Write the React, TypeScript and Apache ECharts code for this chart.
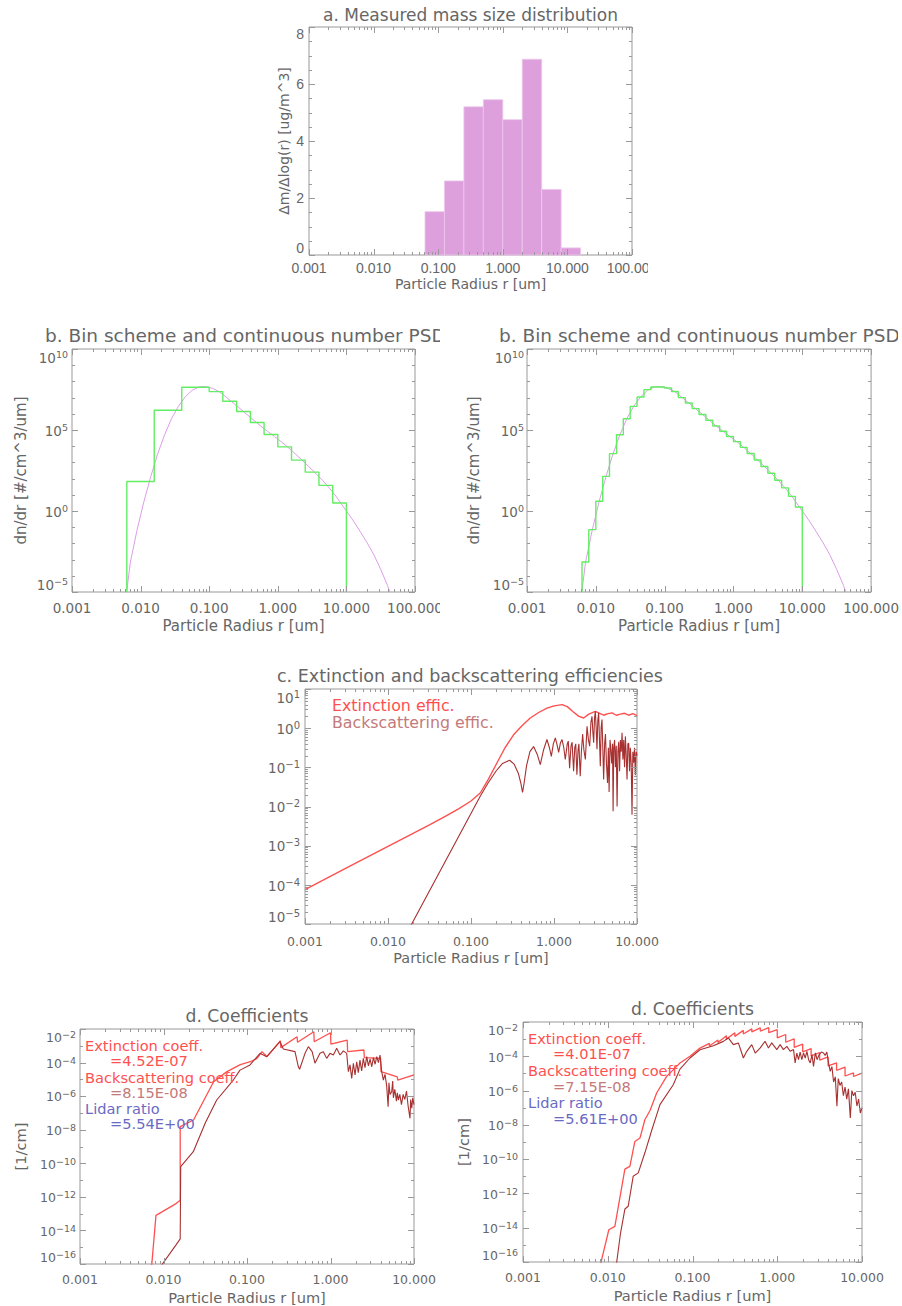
import React, { useEffect, useRef } from "react";
import * as echarts from "echarts";

// ---------------- data ----------------
// a. measured mass size distribution (bin edges in um, dm/dlog(r) in ug/m^3)
const massBinEdges = [0.0625, 0.125, 0.25, 0.5, 1, 2, 4, 8, 16];
const massValues = [1.52, 2.6, 5.2, 5.45, 4.75, 6.87, 2.3, 0.25];

// b. coarse bin scheme (left) : edges [um] and dn/dr levels
const coarseEdges = [0.0063, 0.0158, 0.0398, 0.1, 0.158, 0.251, 0.398, 0.631, 1.0, 1.585, 2.512, 3.981, 6.31, 10.0];
const coarseLevels = [66, 1.66e6, 4.37e7, 2.34e7, 5.89e6, 1.38e6, 2.88e5, 5.25e4, 9.12e3, 1.38e3, 251, 38, 3.1];

// b. fine bin scheme (right)
const fineEdges = [0.0063, 0.0079, 0.01, 0.0126, 0.0158, 0.02, 0.0251, 0.0316, 0.0398, 0.0501, 0.0631, 0.0794, 0.1, 0.126, 0.158, 0.2, 0.251, 0.316, 0.398, 0.501, 0.631, 0.794, 1.0, 1.26, 1.58, 2.0, 2.51, 3.16, 3.98, 5.01, 6.31, 7.94, 10.0];
const fineLevels = [7.1e-4, 0.071, 3.98, 138, 3.47e3, 5.13e4, 5.0e5, 2.88e6, 1.1e7, 3.09e7, 4.47e7, 4.47e7, 3.89e7, 2.4e7, 1.0e7, 4.68e6, 2.09e6, 9.1e5, 3.98e5, 1.78e5, 8.32e4, 3.98e4, 1.91e4, 8.51e3, 3.55e3, 1.41e3, 562, 214, 79.4, 26.9, 7.94, 1.78];

// b. continuous number PSD
const psdCurveR = [0.0058, 0.0063, 0.0071, 0.0089, 0.0112, 0.0141, 0.0178, 0.0224, 0.0282, 0.0355, 0.0447, 0.0562, 0.0708, 0.083, 0.1, 0.112, 0.141, 0.178, 0.224, 0.282, 0.355, 0.447, 0.562, 0.708, 0.891, 1.12, 1.41, 1.78, 2.24, 2.82, 3.55, 4.47, 5.62, 7.08, 8.91, 10, 12.6, 15.8, 20, 25.1, 31.6, 39.8, 44.7];
const psdCurveN = [1e-7, 1.26e-5, 7.1e-4, 0.071, 3.98, 138, 3.47e3, 5.13e4, 5.0e5, 2.88e6, 1.1e7, 2.82e7, 4.47e7, 4.79e7, 4.27e7, 3.72e7, 2.29e7, 1.05e7, 4.68e6, 2.09e6, 9.1e5, 3.98e5, 1.78e5, 8.32e4, 3.98e4, 1.91e4, 8.51e3, 3.55e3, 1.41e3, 562, 214, 79.4, 26.9, 7.94, 2.0, 1.0, 0.25, 0.056, 0.0112, 2.0e-3, 2.5e-4, 2.5e-5, 6.3e-6];

// c. efficiencies as [log10 r, log10 Q]
const effExtLog = [
  [-3.0, -4.12], [-2.5, -3.57], [-2.0, -3.02], [-1.5, -2.47], [-1.3, -2.24], [-1.15, -2.06], [-1.0, -1.86], [-0.889, -1.655],
  [-0.79, -1.3], [-0.688, -0.89], [-0.59, -0.5], [-0.487, -0.17], [-0.386, 0.06], [-0.286, 0.26], [-0.185, 0.4], [-0.084, 0.51],
  [0.0, 0.57], [0.097, 0.6], [0.16, 0.55], [0.23, 0.42], [0.3, 0.3], [0.357, 0.26], [0.42, 0.36], [0.498, 0.43], [0.55, 0.38],
  [0.6, 0.33], [0.65, 0.37], [0.7, 0.39], [0.75, 0.33], [0.8, 0.36], [0.85, 0.38], [0.9, 0.33], [0.95, 0.37], [1.0, 0.32],
];
const effBackLog = [
  [-1.76, -5.18], [-0.889, -1.74], [-0.8, -1.42], [-0.7, -1.1], [-0.62, -0.9], [-0.535, -0.82], [-0.48, -0.92], [-0.43, -1.15],
  [-0.4, -1.4], [-0.379, -1.64], [-0.36, -1.4], [-0.33, -0.95], [-0.29, -0.6], [-0.246, -0.47], [-0.2, -0.68], [-0.165, -0.93],
  [-0.125, -0.55], [-0.085, -0.29], [-0.055, -0.5], [-0.032, -0.72], [-0.008, -0.4], [0.016, -0.25], [0.04, -0.45], [0.056, -0.62],
  [0.077, -0.38], [0.097, -0.29], [0.118, -0.5], [0.136, -0.8], [0.16, -0.4], [0.172, -0.33], [0.188, -1.02], [0.205, -0.45],
  [0.218, -0.36], [0.236, -1.1], [0.25, -0.5], [0.262, -0.4], [0.276, -1.19], [0.29, -0.55], [0.3, -0.4], [0.316, -1.23],
  [0.33, -0.6], [0.345, -0.15], [0.36, -0.55], [0.378, -0.8], [0.398, 0.05], [0.415, -0.3], [0.43, -0.46], [0.445, 0.15],
  [0.458, 0.3], [0.468, -0.1], [0.478, -0.37], [0.488, 0.25], [0.498, 0.43], [0.508, 0.0], [0.518, -0.54], [0.528, 0.2],
  [0.538, 0.39], [0.548, -0.3], [0.558, -0.97], [0.568, 0.0], [0.578, 0.22], [0.588, -0.5], [0.598, -1.31], [0.61, -0.4],
  [0.62, -0.15], [0.632, -0.9], [0.645, -1.4], [0.655, -0.5], [0.664, -1.63], [0.675, -0.3], [0.685, -0.55], [0.695, -0.9],
  [0.705, -0.4], [0.712, -2.12], [0.72, -0.5], [0.73, -0.3], [0.74, -1.0], [0.75, -0.45], [0.76, -2.0], [0.77, -0.6],
  [0.78, -0.35], [0.79, -1.1], [0.8, -0.3], [0.81, -0.6], [0.82, -0.12], [0.83, -0.8], [0.84, -0.3], [0.85, -1.0],
  [0.86, -0.21], [0.87, -0.7], [0.88, -1.31], [0.89, -0.4], [0.9, -0.38], [0.91, -1.1], [0.92, -0.5], [0.93, -0.9],
  [0.94, -2.21], [0.95, -0.6], [0.96, -0.88], [0.97, -0.5], [0.98, -1.2], [0.99, -0.6], [1.0, -0.7],
];

// d. coefficients [log10 r, log10 coefficient (1/cm)]
const coefLeftExtLog = [
  [-2.15, -16.6], [-2.14, -16.0], [-2.09, -13.1], [-1.85, -12.4], [-1.8, -12.2], [-1.8, -7.82], [-1.64, -7.42], [-1.4, -5.14],
  [-1.24, -4.54], [-1.08, -4.12], [-0.96, -3.95], [-0.88, -3.75], [-0.82, -3.35], [-0.76, -3.65], [-0.6, -2.7], [-0.595, -3.11],
  [-0.4, -2.46], [-0.395, -2.79], [-0.2, -2.16], [-0.195, -2.76], [0.0, -2.22], [0.005, -2.9], [0.2, -2.66], [0.205, -3.35],
  [0.4, -3.25], [0.405, -3.7], [0.6, -3.75], [0.605, -4.54], [0.8, -4.85], [0.805, -5.05], [1.0, -4.74],
];
const coefLeftBackLog = [
  [-2.05, -16.8], [-2.02, -16.05], [-1.85, -14.86], [-1.8, -14.5], [-1.794, -10.2], [-1.643, -9.31], [-1.5, -7.6], [-1.363, -6.23],
  [-1.164, -5.04], [-1.084, -4.45], [-0.964, -4.14], [-0.844, -3.45], [-0.764, -3.65], [-0.605, -2.76], [-0.565, -3.19], [-0.425, -3.35],
  [-0.385, -4.25], [-0.37, -4.4], [-0.305, -3.45], [-0.265, -3.05], [-0.22, -3.35], [-0.186, -4.04], [-0.126, -3.45], [-0.086, -3.35],
  [-0.046, -3.75], [-0.006, -3.45], [0.034, -3.55], [0.074, -3.15], [0.114, -3.55], [0.154, -3.3], [0.194, -3.45], [0.214, -4.54],
  [0.234, -4.14], [0.254, -4.94], [0.274, -4.04], [0.294, -4.74], [0.314, -3.95], [0.333, -4.6], [0.353, -3.85], [0.373, -4.5],
  [0.393, -3.75], [0.413, -4.3], [0.434, -3.65], [0.454, -4.2], [0.474, -3.8], [0.494, -4.25], [0.514, -3.7], [0.534, -4.1],
  [0.554, -3.65], [0.574, -4.0], [0.593, -3.55], [0.613, -4.54], [0.633, -5.04], [0.653, -4.7], [0.673, -5.4], [0.69, -6.63],
  [0.7, -5.2], [0.713, -5.9], [0.733, -5.74], [0.745, -5.1], [0.753, -6.1], [0.77, -5.6], [0.79, -6.3], [0.8, -5.8],
  [0.813, -6.23], [0.83, -5.9], [0.85, -6.5], [0.87, -5.9], [0.89, -6.2], [0.91, -5.7], [0.93, -6.6], [0.952, -7.32],
  [0.96, -6.2], [0.973, -6.72], [0.985, -6.1], [1.0, -6.5],
];
const coefRightExtLog = [
  [-2.1, -16.8], [-2.082, -16.06], [-1.987, -14.12], [-1.916, -13.92], [-1.798, -10.58], [-1.739, -10.42], [-1.68, -8.97], [-1.62, -8.77],
  [-1.562, -7.7], [-1.5, -7.15], [-1.423, -6.14], [-1.305, -5.17], [-1.187, -4.59], [-1.148, -4.39], [-1.03, -4.0], [-0.912, -3.52],
  [-0.8, -3.25], [-0.8, -3.4], [-0.7, -3.05], [-0.7, -3.2], [-0.6, -2.8], [-0.6, -3.0], [-0.5, -2.63], [-0.5, -2.84],
  [-0.4, -2.49], [-0.4, -2.7], [-0.3, -2.4], [-0.3, -2.58], [-0.2, -2.34], [-0.2, -2.53], [-0.1, -2.33], [-0.1, -2.62],
  [0.0, -2.45], [0.0, -2.92], [0.1, -2.73], [0.1, -3.18], [0.2, -2.98], [0.2, -3.48], [0.3, -3.29], [0.3, -3.74],
  [0.4, -3.55], [0.4, -3.98], [0.5, -3.79], [0.5, -4.22], [0.6, -4.04], [0.6, -4.56], [0.7, -4.38], [0.7, -4.82],
  [0.8, -4.63], [0.8, -5.15], [0.9, -4.97], [0.9, -5.18], [1.0, -4.98],
];
const coefRightBackLog = [
  [-1.92, -16.9], [-1.896, -16.06], [-1.849, -14.31], [-1.798, -12.91], [-1.759, -12.75], [-1.7, -11.0], [-1.64, -10.8], [-1.56, -9.6],
  [-1.48, -8.3], [-1.384, -6.82], [-1.227, -5.66], [-1.148, -4.75], [-1.03, -4.1], [-0.912, -3.62], [-0.754, -3.38], [-0.636, -3.13],
  [-0.577, -2.93], [-0.518, -3.32], [-0.459, -3.22], [-0.419, -3.81], [-0.4, -4.1], [-0.36, -3.71], [-0.301, -3.32], [-0.26, -3.81],
  [-0.203, -3.52], [-0.144, -3.13], [-0.104, -3.52], [-0.065, -3.22], [-0.005, -3.61], [0.034, -3.32], [0.073, -3.61], [0.113, -3.42],
  [0.152, -3.71], [0.192, -3.61], [0.211, -4.39], [0.231, -3.81], [0.251, -4.2], [0.27, -3.75], [0.29, -4.2], [0.31, -3.8],
  [0.33, -4.1], [0.35, -3.71], [0.37, -4.2], [0.389, -4.39], [0.41, -3.9], [0.428, -4.59], [0.45, -3.8], [0.47, -4.2],
  [0.49, -3.95], [0.52, -3.75], [0.546, -3.81], [0.565, -3.95], [0.585, -3.75], [0.605, -4.39], [0.625, -4.88], [0.645, -4.6],
  [0.665, -5.5], [0.685, -5.2], [0.704, -6.92], [0.72, -5.3], [0.74, -5.7], [0.76, -5.5], [0.78, -6.3], [0.8, -5.8],
  [0.82, -6.5], [0.84, -5.9], [0.862, -7.6], [0.88, -6.0], [0.9, -6.3], [0.92, -6.1], [0.94, -6.9], [0.96, -6.5],
  [0.98, -7.31], [1.0, -7.0],
];

// annotation numbers
const leftCoefTexts = ["Extinction coeff.", "=4.52E-07", "Backscattering coeff.", "=8.15E-08", "Lidar ratio", "=5.54E+00"];
const rightCoefTexts = ["Extinction coeff.", "=4.01E-07", "Backscattering coeff.", "=7.15E-08", "Lidar ratio", "=5.61E+00"];

// tick values
const radiusTicksWide = [0.001, 0.01, 0.1, 1, 10, 100];
const radiusTicks = [0.001, 0.01, 0.1, 1, 10];
const massTicks = [0, 2, 4, 6, 8];
const psdTicks = [1e-5, 1, 1e5, 1e10];
const effTicks = [1e-5, 1e-4, 1e-3, 1e-2, 1e-1, 1, 10];
const coefTicks = [1e-16, 1e-14, 1e-12, 1e-10, 1e-8, 1e-6, 1e-4, 1e-2];

// ---------------- style ----------------
const FONT = "'DejaVu Sans', sans-serif";
const NARROW = "'Liberation Sans Narrow', 'Liberation Sans', sans-serif";
const TEXT = "#666666";
const AXIS = "#999999";
const PLUM = "#dda0dd";
const PSD_CURVE = "#dd9de8";
const GREEN = "#62ee62";
const EXT = "#ff5050";
const BACK = "#a83030";
const BACK_TXT = "#c47a7a";
const LIDAR = "#6a6ac4";

const RADIUS_NAME = "Particle Radius r [um]";

function supLabel(v: number) {
  const e = Math.round(Math.log10(v));
  const s = e < 0 ? "\u2212" + Math.abs(e) : String(e);
  return "{b|10}{s|" + s + "}";
}
function richFor(base: number, sup: number) {
  return {
    b: { fontSize: base, fontFamily: FONT, color: TEXT, lineHeight: base + 2, verticalAlign: "bottom" },
    s: { fontSize: sup, fontFamily: FONT, color: TEXT, lineHeight: sup, verticalAlign: "top" },
  };
}
function decades(min: number, max: number) {
  const out: number[] = [];
  for (let e = Math.round(Math.log10(min)); e <= Math.round(Math.log10(max)); e++) out.push(Math.pow(10, e));
  return out;
}
function logMinors(min: number, max: number) {
  const out: number[] = [];
  for (const d of decades(min, max)) for (let k = 2; k <= 9; k++) { const v = k * d; if (v > min * 1.0001 && v < max * 0.9999) out.push(v); }
  return out;
}
const fromLog = (pairs: number[][]) => pairs.map((p) => [Math.pow(10, p[0]), Math.pow(10, p[1])]);
function stepPoints(edges: number[], levels: number[], floor: number) {
  const pts: number[][] = [[edges[0], floor]];
  levels.forEach((lv, i) => { pts.push([edges[i], lv]); pts.push([edges[i + 1], lv]); });
  pts.push([edges[edges.length - 1], floor]);
  return pts;
}

type Panel = {
  grid: any; xMin: number; xMax: number; xTicks: number[]; xFont: string; xSize: number; xMargin: number; xNameGap: number;
  nameSize: number; yLog: boolean; yMin: number; yMax: number; yTicks: number[]; yMinorTicks: number[]; yMargin: number;
  yBase: number; ySup: number; yFont: string; yName: string; yNameGap: number;
};

const panels: Panel[] = [
  { grid: { left: 309, top: 27, width: 323, height: 228 }, xMin: 0.001, xMax: 100, xTicks: radiusTicksWide, xFont: NARROW, xSize: 14, xMargin: 6, xNameGap: 22,
    nameSize: 14, yLog: false, yMin: 0, yMax: 8, yTicks: massTicks, yMinorTicks: [0.5, 1, 1.5, 2.5, 3, 3.5, 4.5, 5, 5.5, 6.5, 7, 7.5], yMargin: 5,
    yBase: 14, ySup: 0, yFont: NARROW, yName: "\u0394m/\u0394log(r) [ug/m^3]", yNameGap: 18 },
  { grid: { left: 72, top: 349, width: 343, height: 243 }, xMin: 0.001, xMax: 100, xTicks: radiusTicksWide, xFont: FONT, xSize: 13.5, xMargin: 9, xNameGap: 26,
    nameSize: 15, yLog: true, yMin: 1e-5, yMax: 1e10, yTicks: psdTicks, yMinorTicks: decades(1e-5, 1e10).filter((v) => psdTicks.indexOf(v) < 0), yMargin: 4,
    yBase: 13.5, ySup: 9.5, yFont: FONT, yName: "dn/dr [#/cm^3/um]", yNameGap: 44 },
  { grid: { left: 527, top: 349, width: 345, height: 243 }, xMin: 0.001, xMax: 100, xTicks: radiusTicksWide, xFont: FONT, xSize: 13.5, xMargin: 9, xNameGap: 26,
    nameSize: 15, yLog: true, yMin: 1e-5, yMax: 1e10, yTicks: psdTicks, yMinorTicks: decades(1e-5, 1e10).filter((v) => psdTicks.indexOf(v) < 0), yMargin: 3,
    yBase: 13.5, ySup: 9.5, yFont: FONT, yName: "dn/dr [#/cm^3/um]", yNameGap: 46 },
  { grid: { left: 305, top: 689, width: 332, height: 235 }, xMin: 0.001, xMax: 10, xTicks: radiusTicks, xFont: FONT, xSize: 12.5, xMargin: 11, xNameGap: 27,
    nameSize: 14.4, yLog: true, yMin: 1e-5, yMax: 10, yTicks: effTicks, yMinorTicks: logMinors(1e-5, 10), yMargin: 5,
    yBase: 13.5, ySup: 10, yFont: FONT, yName: "", yNameGap: 40 },
  { grid: { left: 80, top: 1029, width: 334, height: 235 }, xMin: 0.001, xMax: 10, xTicks: radiusTicks, xFont: FONT, xSize: 12.5, xMargin: 9, xNameGap: 26,
    nameSize: 14.6, yLog: true, yMin: 1e-16, yMax: 1e-2, yTicks: coefTicks, yMinorTicks: decades(1e-16, 1e-2).filter((v) => coefTicks.indexOf(v) < 0), yMargin: 4,
    yBase: 12.5, ySup: 9.5, yFont: FONT, yName: "[1/cm]", yNameGap: 52 },
  { grid: { left: 523, top: 1022, width: 339, height: 240 }, xMin: 0.001, xMax: 10, xTicks: radiusTicks, xFont: FONT, xSize: 12.5, xMargin: 9, xNameGap: 26,
    nameSize: 14.6, yLog: true, yMin: 1e-16, yMax: 1e-2, yTicks: coefTicks, yMinorTicks: decades(1e-16, 1e-2).filter((v) => coefTicks.indexOf(v) < 0), yMargin: 5,
    yBase: 12.5, ySup: 9.5, yFont: FONT, yName: "[1/cm]", yNameGap: 52 },
];

const tickRender = (params: any, api: any) => {
  const cs = params.coordSys;
  const p = api.coord([api.value(0), api.value(1)]);
  const o = api.value(2);
  const len = api.value(3);
  const st = { stroke: AXIS, lineWidth: 1 };
  if (o === 0) {
    const x = Math.round(p[0]) + 0.5;
    return { type: "group", children: [
      { type: "line", shape: { x1: x, y1: cs.y + cs.height, x2: x, y2: cs.y + cs.height - len }, style: st },
      { type: "line", shape: { x1: x, y1: cs.y, x2: x, y2: cs.y + len }, style: st },
    ] };
  }
  const y = Math.round(p[1]) + 0.5;
  return { type: "group", children: [
    { type: "line", shape: { x1: cs.x, y1: y, x2: cs.x + len, y2: y }, style: st },
    { type: "line", shape: { x1: cs.x + cs.width, y1: y, x2: cs.x + cs.width - len, y2: y }, style: st },
  ] };
};

function tickData(p: Panel) {
  const d: number[][] = [];
  p.xTicks.forEach((v) => d.push([v, p.yMin, 0, 6]));
  logMinors(p.xMin, p.xMax).forEach((v) => d.push([v, p.yMin, 0, 3]));
  p.yTicks.forEach((v) => d.push([p.xMin, v, 1, 6]));
  p.yMinorTicks.forEach((v) => d.push([p.xMin, v, 1, 3]));
  return d;
}

function buildOption() {
  const grid = panels.map((p) => ({ ...p.grid, show: true, borderColor: AXIS, borderWidth: 1, backgroundColor: "transparent", containLabel: false }));
  const xAxis = panels.map((p, i) => ({
    type: "log", logBase: 10, gridIndex: i, min: p.xMin, max: p.xMax, position: "bottom",
    axisLine: { show: false }, axisTick: { show: false }, splitLine: { show: false },
    axisLabel: { customValues: p.xTicks, formatter: (v: number) => v.toFixed(3), color: TEXT, fontFamily: p.xFont, fontSize: p.xSize, margin: p.xMargin, showMinLabel: true, showMaxLabel: true },
    name: RADIUS_NAME, nameLocation: "middle", nameGap: p.xNameGap,
    nameTextStyle: { color: TEXT, fontFamily: FONT, fontSize: p.nameSize },
  }));
  const yAxis = panels.map((p, i) => {
    const common: any = {
      gridIndex: i, min: p.yMin, max: p.yMax,
      axisLine: { show: false }, axisTick: { show: false }, splitLine: { show: false },
      name: p.yName, nameLocation: "middle", nameGap: p.yNameGap,
      nameTextStyle: { color: TEXT, fontFamily: FONT, fontSize: p.nameSize },
    };
    if (p.yLog) {
      return { ...common, type: "log", logBase: 10,
        axisLabel: { customValues: p.yTicks, formatter: supLabel, rich: richFor(p.yBase, p.ySup), margin: p.yMargin, color: TEXT, showMinLabel: true, showMaxLabel: true,
          verticalAlignMaxLabel: "top", verticalAlignMinLabel: "bottom" } };
    }
    return { ...common, type: "value", interval: 2,
      axisLabel: { color: TEXT, fontFamily: p.yFont, fontSize: p.yBase, margin: p.yMargin, verticalAlignMaxLabel: "top", verticalAlignMinLabel: "bottom" } };
  });

  const line = (i: number, data: number[][], color: string, width: number, z = 3) => ({
    type: "line", xAxisIndex: i, yAxisIndex: i, data, showSymbol: false, symbol: "none", silent: true, clip: true, z,
    lineStyle: { color, width }, emphasis: { disabled: true },
  });

  const series: any[] = [];
  // a. bars
  series.push({
    type: "custom", xAxisIndex: 0, yAxisIndex: 0, silent: true, z: 2,
    data: massValues.map((v, i) => [massBinEdges[i], massBinEdges[i + 1], v]),
    encode: { x: [0, 1], y: 2 },
    renderItem: (params: any, api: any) => {
      const a = api.coord([api.value(0), api.value(2)]);
      const b = api.coord([api.value(1), 0]);
      return { type: "rect", shape: { x: a[0], y: a[1], width: b[0] - a[0], height: b[1] - a[1] }, style: { fill: PLUM, stroke: "#ecc8ec", lineWidth: 0.8 } };
    },
  });
  // b.
  const psdCurve = psdCurveR.map((r, i) => [r, psdCurveN[i]]);
  series.push(line(1, psdCurve, PSD_CURVE, 1, 3));
  series.push(line(1, stepPoints(coarseEdges, coarseLevels, 1e-5), GREEN, 1.4, 4));
  series.push(line(2, psdCurve, PSD_CURVE, 1, 3));
  series.push(line(2, stepPoints(fineEdges, fineLevels, 1e-5), GREEN, 1.4, 4));
  // c.
  series.push(line(3, fromLog(effExtLog), EXT, 1.4, 3));
  series.push(line(3, fromLog(effBackLog), BACK, 1.1, 4));
  // d.
  series.push(line(4, fromLog(coefLeftExtLog), EXT, 1.3, 3));
  series.push(line(4, fromLog(coefLeftBackLog), BACK, 1.1, 4));
  series.push(line(5, fromLog(coefRightExtLog), EXT, 1.3, 3));
  series.push(line(5, fromLog(coefRightBackLog), BACK, 1.1, 4));
  // frame ticks
  panels.forEach((p, i) => {
    series.push({ type: "custom", xAxisIndex: i, yAxisIndex: i, silent: true, z: 6, clip: false,
      data: tickData(p), encode: { x: 0, y: 1 }, renderItem: tickRender });
  });

  const txt = (x: number, y: number, text: string, fill: string, size: number, align = "left") => ({
    type: "text", x, y, z: 50, silent: true,
    style: { text, fill, fontSize: size, fontFamily: FONT, align, verticalAlign: "middle", textAlign: align, textVerticalAlign: "middle" },
  });
  const mask = (x: number, y: number, width: number, height: number) => ({
    type: "rect", z: 60, silent: true, shape: { x, y, width, height }, style: { fill: "#ffffff" },
  });
  const coefColors = [EXT, EXT, EXT, BACK_TXT, LIDAR, LIDAR];
  const leftY = [1045, 1060, 1077, 1092, 1108, 1123];
  const rightY = [1038, 1053, 1070, 1086, 1102.5, 1118];
  const graphic: any[] = [
    txt(470.5, 15, "a. Measured mass size distribution", TEXT, 17, "center"),
    txt(45, 335, "b. Bin scheme and continuous number PSD", TEXT, 18.5),
    txt(499, 335, "b. Bin scheme and continuous number PSD", TEXT, 18.5),
    txt(277, 676, "c. Extinction and backscattering efficiencies", TEXT, 17.5),
    txt(247, 1016, "d. Coefficients", TEXT, 17.2, "center"),
    txt(692.5, 1008.5, "d. Coefficients", TEXT, 17.2, "center"),
    txt(332, 705, "Extinction effic.", EXT, 15.8),
    txt(332, 722, "Backscattering effic.", BACK_TXT, 15.8),
    ...leftCoefTexts.map((t, k) => txt(k % 2 === 0 ? 85 : 110, leftY[k], t, coefColors[k], 14.6)),
    ...rightCoefTexts.map((t, k) => txt(k % 2 === 0 ? 528 : 553, rightY[k], t, coefColors[k], 14.6)),
    mask(648, 258, 60, 22),
    mask(440, 320, 10, 30),
    mask(440, 596, 10, 22),
    mask(898, 320, 10, 30),
    mask(663, 662, 40, 25),
  ];

  return { animation: false, backgroundColor: "#ffffff", grid, xAxis, yAxis, series, graphic };
}

export default function App() {
  const ref = useRef<HTMLDivElement>(null);
  useEffect(() => {
    document.body.style.margin = "0";
    if (!ref.current) return;
    const chart = echarts.init(ref.current, undefined, { renderer: "svg" });
    chart.setOption(buildOption() as any);
    return () => chart.dispose();
  }, []);
  return <div ref={ref} style={{ width: 902, height: 1306 }} />;
}
